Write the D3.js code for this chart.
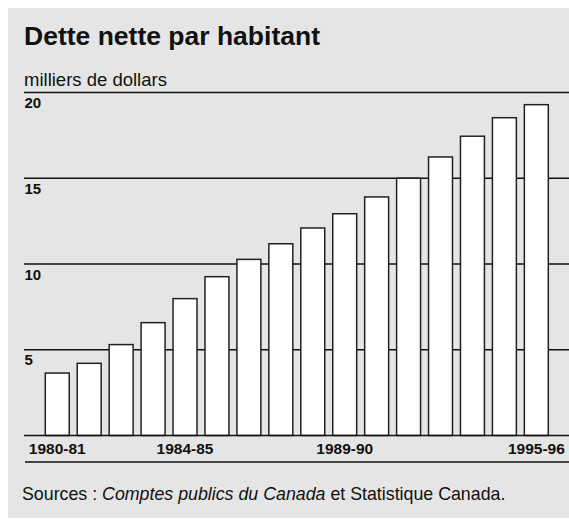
<!DOCTYPE html>
<html>
<head>
<meta charset="utf-8">
<script src="https://cdn.jsdelivr.net/npm/d3@7"></script>
<style>
  html, body { margin: 0; padding: 0; background: #ffffff; }
  svg { display: block; font-family: "Liberation Sans", Arial, Helvetica, sans-serif; }
</style>
</head>
<body>
<svg id="chart" width="569" height="521"></svg>
<script>
// Net debt per capita, thousands of dollars, fiscal years 1980-81 to 1995-96
const years = ["1980-81","1981-82","1982-83","1983-84","1984-85","1985-86","1986-87","1987-88",
               "1988-89","1989-90","1990-91","1991-92","1992-93","1993-94","1994-95","1995-96"];
const debtPerCapita = [3.64, 4.21, 5.30, 6.58, 7.98, 9.26, 10.27, 11.18,
                       12.10, 12.93, 13.91, 15.0, 16.24, 17.45, 18.53, 19.29];
const yTicks = [5, 10, 15, 20];
const xLabels = ["1980-81", "1984-85", "1989-90", "1995-96"];

const svg = d3.select("#chart");
const ink = "#111111";

// panel background
svg.append("rect")
  .attr("x", 8).attr("y", 8).attr("width", 561).attr("height", 510)
  .attr("fill", "#e5e5e5");

// title and unit
svg.append("text")
  .attr("x", 24).attr("y", 45)
  .attr("font-size", 26.5).attr("font-weight", "bold").attr("fill", ink)
  .text("Dette nette par habitant");

svg.append("text")
  .attr("x", 24).attr("y", 86)
  .attr("font-size", 18.5).attr("fill", ink)
  .text("milliers de dollars");

const y = d3.scaleLinear().domain([0, 20]).range([435.5, 92.5]);
const x = d3.scaleBand().domain(years).range([41.3, 552.3])
  .paddingInner(0.25).paddingOuter(0.125);

// horizontal grid lines with labels below each line
const grid = svg.append("g");
grid.selectAll("line").data(yTicks).join("line")
  .attr("x1", 24).attr("x2", 569)
  .attr("y1", d => y(d)).attr("y2", d => y(d))
  .attr("stroke", ink).attr("stroke-width", 1.5);
grid.selectAll("text").data(yTicks).join("text")
  .attr("x", 24.5).attr("y", d => y(d) + 15.5)
  .attr("font-size", 15).attr("font-weight", "bold").attr("fill", ink)
  .text(d => d);

// bars
svg.append("g").selectAll("rect").data(debtPerCapita).join("rect")
  .attr("x", (d, i) => x(years[i]))
  .attr("y", d => y(d))
  .attr("width", x.bandwidth())
  .attr("height", d => y(0) - y(d))
  .attr("fill", "#ffffff")
  .attr("stroke", "#222222").attr("stroke-width", 1.5);

// baseline
svg.append("line")
  .attr("x1", 24).attr("x2", 569)
  .attr("y1", y(0)).attr("y2", y(0))
  .attr("stroke", ink).attr("stroke-width", 1.5);

// category labels
const xAxis = d3.axisBottom(x).tickValues(xLabels).tickSize(0).tickPadding(0);
const gx = svg.append("g").attr("transform", `translate(0,${y(0)})`).call(xAxis);
gx.select(".domain").remove();
gx.selectAll("text")
  .attr("dy", null).attr("y", 18)
  .attr("font-family", "Liberation Sans, Arial, sans-serif")
  .attr("font-size", 15.5).attr("font-weight", "bold").attr("fill", ink);

// rule under the labels
svg.append("line")
  .attr("x1", 25).attr("x2", 569)
  .attr("y1", 462).attr("y2", 462)
  .attr("stroke", ink).attr("stroke-width", 1.5);

// source note
const src = svg.append("text")
  .attr("x", 22).attr("y", 500)
  .attr("font-size", 17.8).attr("fill", ink);
src.append("tspan").text("Sources : ");
src.append("tspan").attr("font-style", "italic").text("Comptes publics du Canada");
src.append("tspan").text(" et Statistique Canada.");
</script>
</body>
</html>
